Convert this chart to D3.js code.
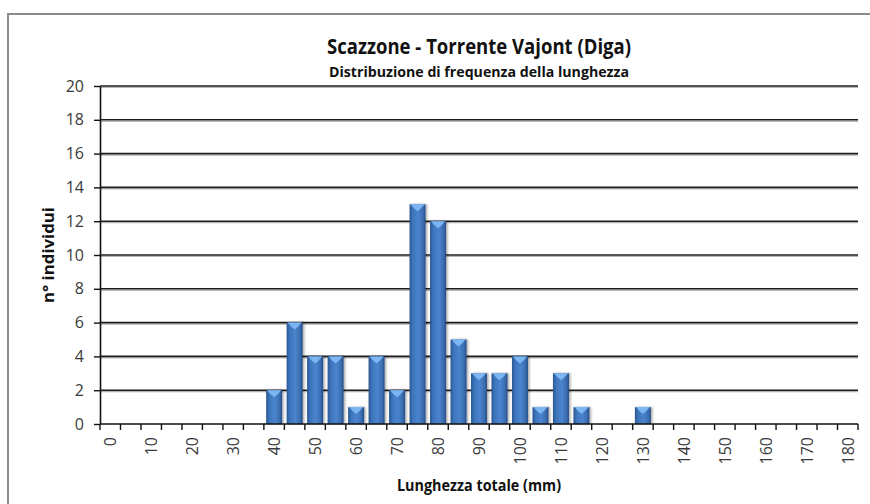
<!DOCTYPE html>
<html>
<head>
<meta charset="utf-8">
<script src="https://cdn.jsdelivr.net/npm/d3@7"></script>
<style>
  body { margin: 0; background: #fff; }
  svg { display: block; font-family: "Open Sans", "Noto Sans", sans-serif; }
</style>
</head>
<body>
<svg id="chart" width="870" height="504"></svg>
<script>
// classi di lunghezza (mm) e n° individui
var classi = d3.range(0, 181, 5);
var individui = [0, 0, 0, 0, 0, 0, 0, 0, 2, 6, 4, 4, 1, 4, 2, 13, 12, 5, 3, 3, 4, 1, 3, 1, 0, 0, 1,
                 0, 0, 0, 0, 0, 0, 0, 0, 0, 0];
var yTicks = [0, 2, 4, 6, 8, 10, 12, 14, 16, 18, 20];
var titolo = "Scazzone - Torrente Vajont (Diga)";
var sottotitolo = "Distribuzione di frequenza della lunghezza";
var titoloX = "Lunghezza totale (mm)";
var titoloY = "n° individui";

var data = classi.map(function(c, i) { return { classe: c, n: individui[i] }; });

var svg = d3.select("#chart");
var margin = { left: 100, right: 12, top: 86, bottom: 80 };
var width = 870 - margin.left - margin.right,
    height = 504 - margin.top - margin.bottom;

// cornice del grafico
svg.append("rect")
  .attr("x", 8).attr("y", 14)
  .attr("width", 900).attr("height", 600)
  .attr("fill", "none").attr("stroke", "#8c8c8c").attr("stroke-width", 2);

var defs = svg.append("defs");
var grad = defs.append("linearGradient").attr("id", "barra");
grad.append("stop").attr("offset", "0%").attr("stop-color", "#2a568f");
grad.append("stop").attr("offset", "20%").attr("stop-color", "#3d75bd");
grad.append("stop").attr("offset", "55%").attr("stop-color", "#4a84cd");
grad.append("stop").attr("offset", "85%").attr("stop-color", "#3a6cb0");
grad.append("stop").attr("offset", "100%").attr("stop-color", "#254c84");

var ombra = defs.append("filter").attr("id", "ombra")
  .attr("x", "-30%").attr("y", "-10%").attr("width", "160%").attr("height", "120%");
ombra.append("feDropShadow").attr("dx", 1.5).attr("dy", 0).attr("stdDeviation", 1.2)
  .attr("flood-color", "#000").attr("flood-opacity", 0.35);

var g = svg.append("g").attr("transform", "translate(" + margin.left + "," + margin.top + ")");

var x = d3.scaleBand()
  .domain(classi)
  .range([0, width])
  .paddingInner(0.22)
  .paddingOuter(0.11);

var y = d3.scaleLinear().domain([0, 20]).range([height, 0]);

// griglia (con leggera ombra sotto)
var griglia = g.append("g");
griglia.selectAll(".ombra")
  .data(yTicks.slice(1))
  .join("line")
  .attr("class", "ombra")
  .attr("x1", 0).attr("x2", width)
  .attr("y1", function(d) { return y(d) + 1.5; })
  .attr("y2", function(d) { return y(d) + 1.5; })
  .attr("stroke", "#b5b5b5").attr("stroke-width", 1.2);
griglia.selectAll(".linea")
  .data(yTicks.slice(1))
  .join("line")
  .attr("class", "linea")
  .attr("x1", 0).attr("x2", width)
  .attr("y1", function(d) { return y(d); })
  .attr("y2", function(d) { return y(d); })
  .attr("stroke", "#1c1c1c").attr("stroke-width", 1.6);

// barre
var bars = g.append("g").selectAll("g")
  .data(data.filter(function(d) { return d.n > 0; }))
  .join("g")
  .attr("filter", "url(#ombra)");

bars.append("rect")
  .attr("x", function(d) { return x(d.classe); })
  .attr("y", function(d) { return y(d.n); })
  .attr("width", x.bandwidth())
  .attr("height", function(d) { return y(0) - y(d.n); })
  .attr("fill", "url(#barra)");

bars.append("path")
  .attr("d", function(d) {
    var x0 = x(d.classe), x1 = x0 + x.bandwidth(), y0 = y(d.n), bw = x.bandwidth();
    return "M" + (x0 + 1) + "," + y0 + "L" + (x1 - 1) + "," + y0 +
           "L" + (x0 + bw * 0.72) + "," + (y0 + 4) +
           "L" + (x0 + bw / 2) + "," + (y0 + 7) +
           "L" + (x0 + bw * 0.28) + "," + (y0 + 4) + "Z";
  })
  .attr("fill", "#7cb6f2");

// asse y
var yAxis = g.append("g")
  .call(d3.axisLeft(y).tickValues(yTicks).tickSize(6).tickPadding(10).tickSizeOuter(0))
  .attr("font-family", null);
yAxis.select(".domain").attr("stroke", "#111").attr("stroke-width", 1.6);
yAxis.selectAll(".tick line").attr("stroke", "#111").attr("stroke-width", 1.4);
yAxis.selectAll("text").attr("font-size", 16).attr("fill", "#3a3a3a");

// asse x: tacche ai confini delle classi
var xAxisG = g.append("g").attr("transform", "translate(0," + height + ")");
xAxisG.append("line")
  .attr("x1", 0).attr("x2", width).attr("y1", 0).attr("y2", 0)
  .attr("stroke", "#111").attr("stroke-width", 1.6);
var step = x.step();
var confini = d3.range(classi.length + 1);
xAxisG.selectAll(".tacca")
  .data(confini)
  .join("line")
  .attr("class", "tacca")
  .attr("x1", function(i) { return i * step; })
  .attr("x2", function(i) { return i * step; })
  .attr("y1", 0).attr("y2", 6)
  .attr("stroke", "#111").attr("stroke-width", 1.4);

xAxisG.selectAll(".etichetta")
  .data(classi.filter(function(c) { return c % 10 === 0; }))
  .join("text")
  .attr("class", "etichetta")
  .attr("transform", function(c) {
    return "translate(" + (x(c) + x.bandwidth() / 2 + 6) + ",13) rotate(-90)";
  })
  .attr("text-anchor", "end")
  .attr("font-size", 16)
  .attr("fill", "#3a3a3a")
  .text(function(c) { return c; });

// titoli
svg.append("text")
  .attr("x", margin.left + width / 2).attr("y", 54)
  .attr("text-anchor", "middle")
  .attr("font-size", 21).attr("font-weight", "bold")
  .attr("textLength", 304).attr("lengthAdjust", "spacingAndGlyphs")
  .attr("fill", "#111")
  .text(titolo);

svg.append("text")
  .attr("x", margin.left + width / 2).attr("y", 77)
  .attr("text-anchor", "middle")
  .attr("font-size", 14).attr("font-weight", "bold")
  .attr("textLength", 300).attr("lengthAdjust", "spacingAndGlyphs")
  .attr("fill", "#111")
  .text(sottotitolo);

svg.append("text")
  .attr("x", margin.left + width / 2).attr("y", 491)
  .attr("text-anchor", "middle")
  .attr("font-size", 16).attr("font-weight", "bold")
  .attr("textLength", 164).attr("lengthAdjust", "spacingAndGlyphs")
  .attr("fill", "#111")
  .text(titoloX);

svg.append("text")
  .attr("transform", "translate(54," + (margin.top + height / 2) + ") rotate(-90)")
  .attr("text-anchor", "middle")
  .attr("font-size", 16).attr("font-weight", "bold")
  .attr("textLength", 96).attr("lengthAdjust", "spacingAndGlyphs")
  .attr("fill", "#111")
  .text(titoloY);
</script>
</body>
</html>
